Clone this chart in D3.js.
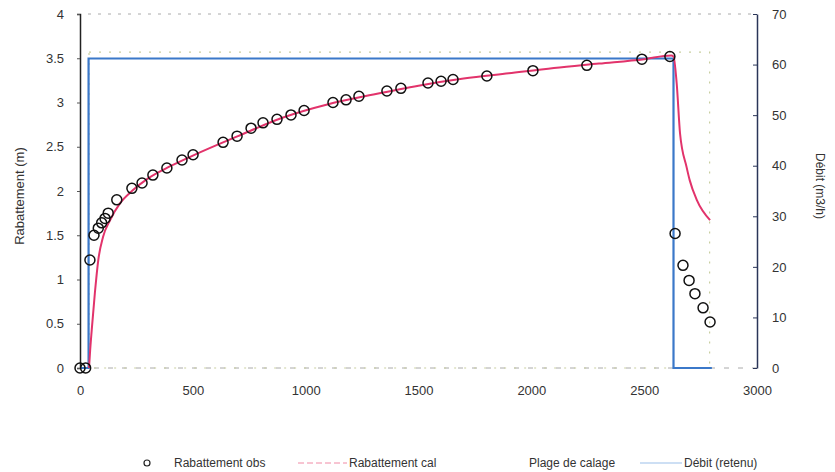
<!DOCTYPE html>
<html><head><meta charset="utf-8">
<script src="https://cdn.jsdelivr.net/npm/d3@7"></script>
<style>body{margin:0;background:#fff;} text{font-family:"Liberation Sans",Arial,sans-serif;}</style>
</head><body>
<svg id="chart" width="835" height="472"></svg>
<script>
// Observed drawdown (time, m)
const obsT = [0,25,44,62,81,96,111,125,163,230,275,323,385,452,501,634,696,758,811,873,935,993,1121,1179,1236,1360,1422,1542,1600,1653,1803,2007,2246,2490,2614,2637,2672,2699,2725,2761,2792];
const obsS = [0,0,1.22,1.50,1.58,1.64,1.69,1.75,1.90,2.03,2.09,2.18,2.26,2.35,2.41,2.55,2.62,2.71,2.77,2.81,2.86,2.91,3.00,3.03,3.07,3.13,3.16,3.22,3.24,3.26,3.30,3.36,3.42,3.49,3.52,1.52,1.16,0.99,0.84,0.68,0.52];
// Computed drawdown
const calT = [40,45,52,66,81,102,133,177,235,300,400,500,700,900,1100,1300,1500,1700,1900,2100,2300,2500,2620,2630,2644,2659,2688,2702,2733,2792];
const calS = [0,0.2,0.43,0.85,1.22,1.48,1.67,1.86,2.01,2.14,2.28,2.40,2.62,2.83,2.98,3.09,3.19,3.27,3.33,3.39,3.44,3.49,3.53,3.52,3.22,2.65,2.27,2.12,1.90,1.67];
// Flow rate (m3/h)
const qT = [0,38,38,2630,2630,2800];
const qV = [0,0,61.2,61.2,0,0];
// Calibration range
const plageT = [40,2790];
const plageS = [0,3.57];
const xTicks = [0,500,1000,1500,2000,2500,3000];
const yTicks = [0,0.5,1,1.5,2,2.5,3,3.5,4];
const y2Ticks = [0,10,20,30,40,50,60,70];
const legendLabels = ["Rabattement obs","Rabattement cal","Plage de calage","Débit (retenu)"];

const svg = d3.select("#chart");
const L=80,R=757,T=14,B=368;
const x = d3.scaleLinear().domain([0,3000]).range([L,R]);
const y = d3.scaleLinear().domain([0,4]).range([B,T]);
const y2 = d3.scaleLinear().domain([0,70]).range([B,T]);
const txt="#333";

// top dotted frame
svg.append("line").attr("x1",L+8).attr("x2",R).attr("y1",T).attr("y2",T)
  .attr("stroke","#aaa").attr("stroke-width",1).attr("stroke-dasharray","3,7");
// bottom dashed
svg.append("line").attr("x1",L).attr("x2",R).attr("y1",B).attr("y2",B)
  .attr("stroke","#aaa").attr("stroke-width",1).attr("stroke-dasharray","5,9");

// plage de calage
svg.append("rect").attr("x",x(plageT[0])).attr("y",y(plageS[1]))
  .attr("width",x(plageT[1])-x(plageT[0])).attr("height",y(plageS[0])-y(plageS[1]))
  .attr("fill","none").attr("stroke","#c9cfa0").attr("stroke-width",1.2).attr("stroke-dasharray","2,8");

// left axis
const ax = svg.append("g").attr("transform",`translate(${L},0)`)
  .call(d3.axisLeft(y).tickValues(yTicks).tickSize(3).tickFormat(d3.format("")));
ax.select(".domain").attr("stroke","#222").attr("stroke-width",1.5);
ax.selectAll("text").attr("fill",txt).attr("font-size",13).attr("x",-16);
ax.selectAll(".tick line").attr("stroke","#555");

// right axis
const ar = svg.append("g").attr("transform",`translate(${R},0)`)
  .call(d3.axisRight(y2).tickValues(y2Ticks).tickSize(0));
ar.select(".domain").attr("stroke","#2a3558").attr("stroke-width",1.5);
ar.selectAll("text").attr("fill",txt).attr("font-size",13).attr("x",15);
ar.selectAll(".tick").append("line").attr("x1",-4).attr("x2",0).attr("stroke","#2a3558");

// bottom labels
const ab = svg.append("g").attr("transform",`translate(0,${B})`)
  .call(d3.axisBottom(x).tickValues(xTicks).tickSize(0).tickFormat(d3.format("d")));
ab.select(".domain").remove();
ab.selectAll("text").attr("fill",txt).attr("font-size",13).attr("y",18);

// axis titles
svg.append("text").attr("transform",`translate(24,196) rotate(-90)`)
  .attr("text-anchor","middle").attr("font-size",13).attr("fill",txt).text("Rabattement (m)");
svg.append("text").attr("transform",`translate(816,186) rotate(90)`)
  .attr("text-anchor","middle").attr("font-size",12).attr("fill",txt).text("Débit (m3/h)");

// debit line
const qLine = d3.line().x((d,i)=>x(qT[i])).y((d,i)=>y2(qV[i]));
svg.append("path").attr("d",qLine(qT)).attr("fill","none")
  .attr("stroke","#3b78c9").attr("stroke-width",2.2);

// calc line
const cLine = d3.line().x((d,i)=>x(calT[i])).y((d,i)=>y(calS[i])).curve(d3.curveMonotoneX);
svg.append("path").attr("d",cLine(calT)).attr("fill","none")
  .attr("stroke","#e2336b").attr("stroke-width",2);

// observed points
svg.append("g").selectAll("circle").data(obsT).join("circle")
  .attr("cx",(d,i)=>x(obsT[i])).attr("cy",(d,i)=>y(obsS[i])).attr("r",5)
  .attr("fill","none").attr("stroke","#111").attr("stroke-width",1.5);

// legend
const ly=467;
svg.append("circle").attr("cx",147).attr("cy",ly-4).attr("r",3).attr("fill","none").attr("stroke","#222").attr("stroke-width",1.2);
svg.append("text").attr("x",174).attr("y",ly).attr("font-size",12).attr("fill",txt).text(legendLabels[0]);
svg.append("line").attr("x1",298).attr("x2",347).attr("y1",ly-4).attr("y2",ly-4)
  .attr("stroke","#f08aa5").attr("stroke-width",1).attr("stroke-dasharray","6,3");
svg.append("text").attr("x",349).attr("y",ly).attr("font-size",12).attr("fill",txt).text(legendLabels[1]);
svg.append("text").attr("x",529).attr("y",ly).attr("font-size",12).attr("fill",txt).text(legendLabels[2]);
svg.append("line").attr("x1",640).attr("x2",682).attr("y1",ly-4).attr("y2",ly-4)
  .attr("stroke","#9cc0ea").attr("stroke-width",1.2);
svg.append("text").attr("x",684).attr("y",ly).attr("font-size",12).attr("fill",txt).text(legendLabels[3]);
</script>
</body></html>
